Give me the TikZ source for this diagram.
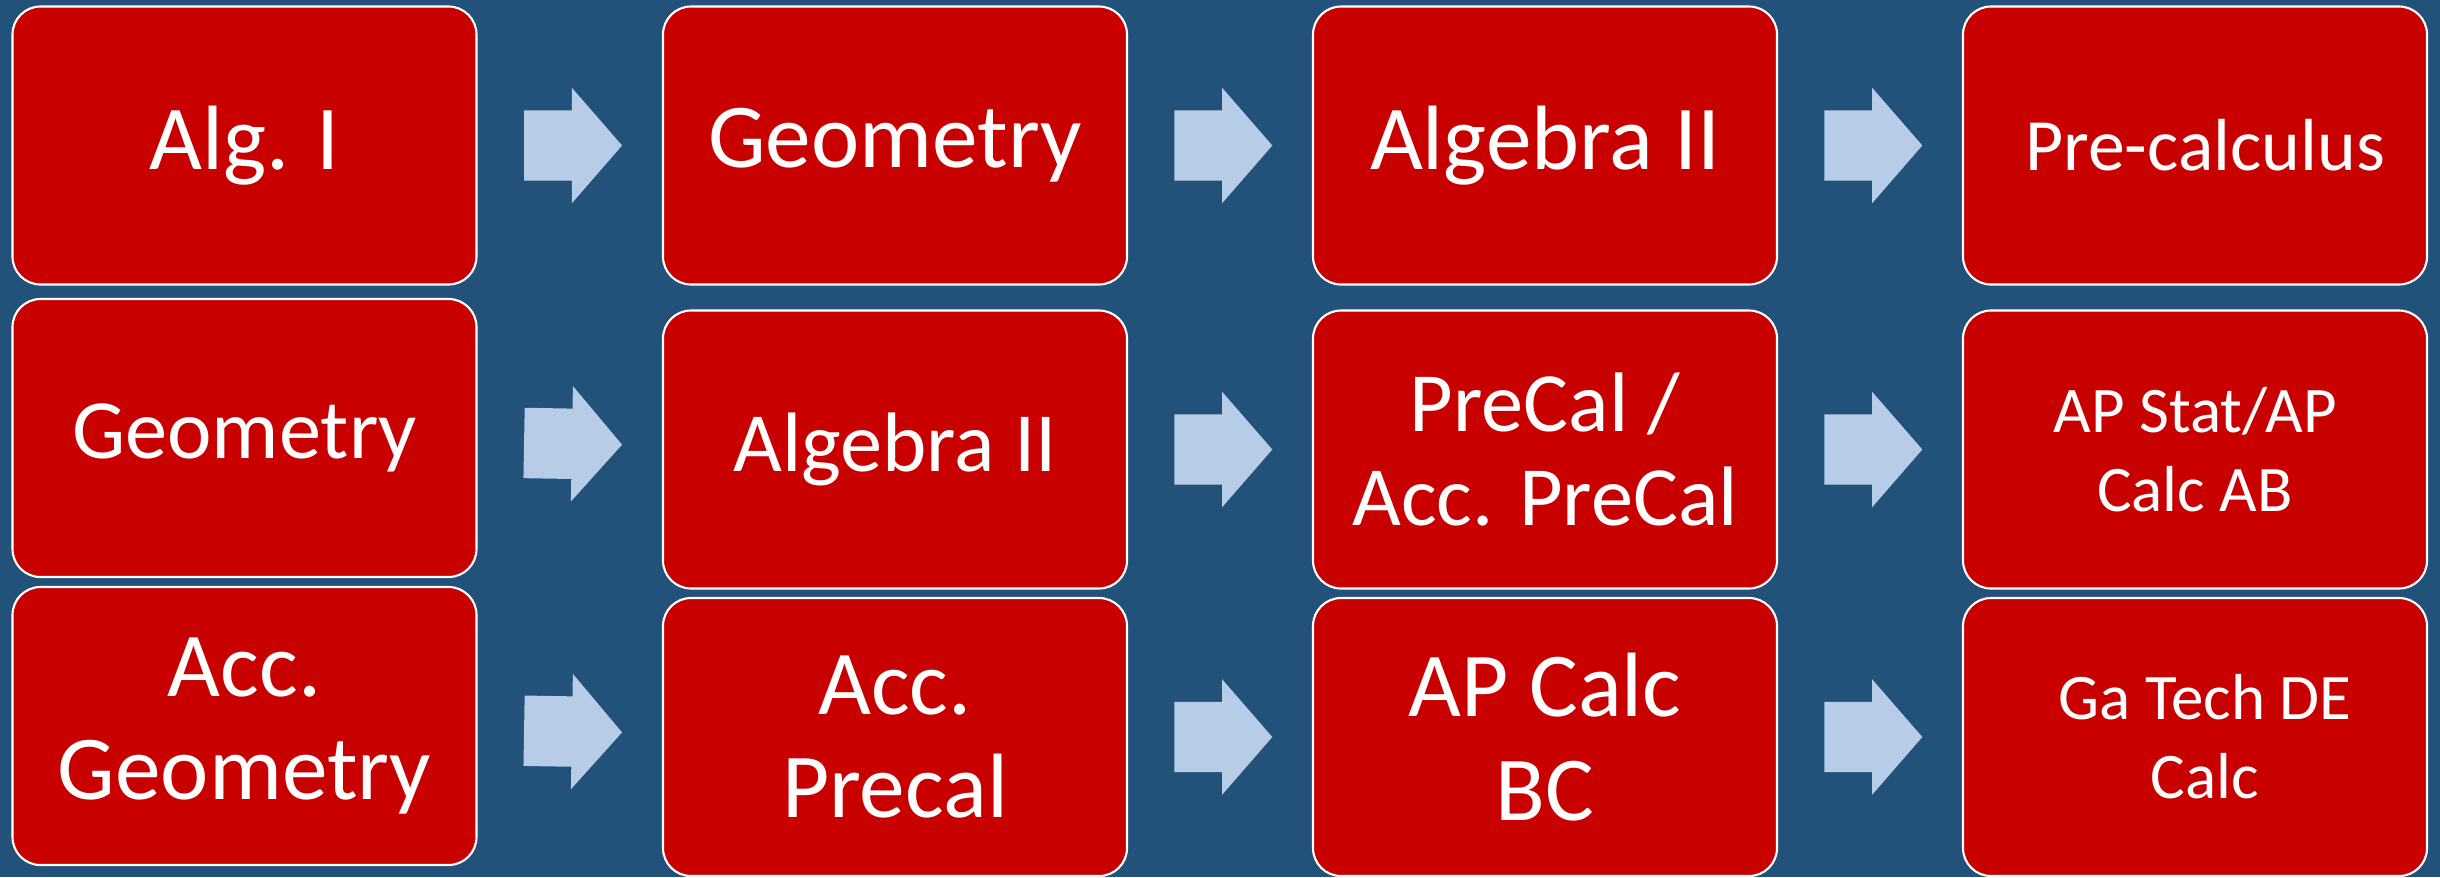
\documentclass[tikz,border=0pt]{standalone}
\usepackage{fontspec}
\setmainfont{Carlito}
\usepackage{xcolor}
\usepackage{tikz}
\usetikzlibrary{shapes.arrows}
\definecolor{slateblue}{RGB}{34,81,122}
\definecolor{coursered}{RGB}{200,0,0}
\definecolor{arrowblue}{RGB}{183,204,231}

\begin{document}
\begin{tikzpicture}[
    course/.style={rectangle, rounded corners=0.28cm, draw=white, line width=0.6pt,
      fill=coursered, text=white, minimum width=4.64cm, minimum height=2.78cm,
      inner sep=0pt, align=center},
    big/.style={font=\fontsize{26}{29.5}\selectfont},
    mid/.style={font=\fontsize{24}{26.5}\selectfont},
    small/.style={font=\fontsize{18.5}{22.5}\selectfont},
    flowarrow/.style={single arrow, fill=arrowblue, draw=none,
      inner xsep=0pt, inner ysep=0.345cm, minimum height=0.98cm,
      single arrow head extend=0.225cm, single arrow tip angle=98,
      xshift=-0.12cm}
  ]
  \fill[slateblue] (0,0) rectangle (24.4,-8.77);
  \useasboundingbox (0,0) rectangle (24.4,-8.77);

  % standard track
  \node[course, big] (alg1) at (2.445,-1.455) {Alg. I};
  \node[course, big] (geo) at (8.95,-1.455) {Geometry};
  \node[course, big] (alg2) at (15.45,-1.455) {Algebra II};
  \node[course, font=\fontsize{21}{25}\selectfont] (precalc) at (21.95,-1.455) {\hspace*{0.2cm}Pre-calculus};

  % honors track
  \node[course, mid] (geoh) at (2.445,-4.38) {Geometry};
  \node[course, mid] (alg2h) at (8.95,-4.495) {Algebra II};
  \node[course, mid] (precalh) at (15.45,-4.495) {PreCal /\\Acc. PreCal};
  \node[course, small] (apstat) at (21.95,-4.495) {AP Stat/AP\\Calc AB};

  % accelerated track
  \node[course, big] (accgeo) at (2.445,-7.26) {Acc.\\Geometry};
  \node[course, big] (accpre) at (8.95,-7.37) {Acc.\\Precal};
  \node[course, big] (apbc) at (15.45,-7.37) {AP Calc\\BC};
  \node[course, small] (gatech) at (21.95,-7.37) {\hspace*{0.2cm}Ga Tech DE\\\hspace*{0.2cm}Calc};

  \path (alg1) -- node[flowarrow, sloped] (a1) {} (geo);
  \path (geo) -- node[flowarrow, sloped] (a2) {} (alg2);
  \path (alg2) -- node[flowarrow, sloped] (a3) {} (precalc);
  \path (geoh) -- node[flowarrow, sloped] (b1) {} (alg2h);
  \path (alg2h) -- node[flowarrow, sloped] (b2) {} (precalh);
  \path (precalh) -- node[flowarrow, sloped] (b3) {} (apstat);
  \path (accgeo) -- node[flowarrow, sloped] (c1) {} (accpre);
  \path (accpre) -- node[flowarrow, sloped] (c2) {} (apbc);
  \path (apbc) -- node[flowarrow, sloped] (c3) {} (gatech);
\end{tikzpicture}
\end{document}
